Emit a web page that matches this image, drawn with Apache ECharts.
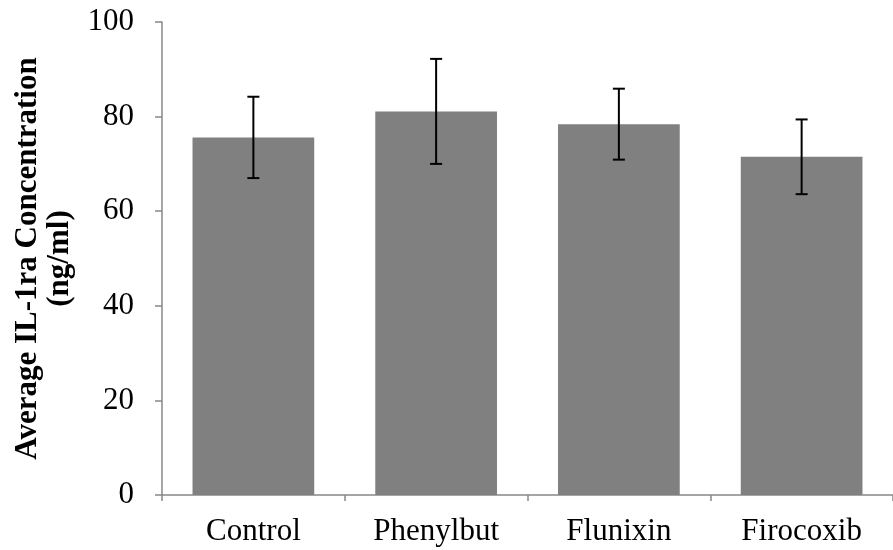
<!DOCTYPE html>
<html><head><meta charset="utf-8">
<script src="https://cdn.jsdelivr.net/npm/echarts@6/dist/echarts.min.js"></script>
<style>html,body{margin:0;padding:0;background:#fff}#c{width:893px;height:550px}</style>
</head><body><div id="c"></div>
<script>
const categories = ['Control', 'Phenylbut', 'Flunixin', 'Firocoxib'];
const means = [75.6, 81.1, 78.4, 71.5];
const errors = [8.6, 11.1, 7.5, 7.9];
const yTicks = [0, 20, 40, 60, 80, 100];

const chart = echarts.init(document.getElementById('c'));
const font = '"Liberation Serif", "Times New Roman", serif';
chart.setOption({
  animation: false,
  grid: { left: 162, right: -10, top: 22, bottom: 55, containLabel: false },
  xAxis: {
    type: 'category', data: categories,
    axisLine: { lineStyle: { color: '#888', width: 1.5 } },
    axisTick: { show: true, length: 6, lineStyle: { color: '#888', width: 1.5 } },
    axisLabel: { fontFamily: font, fontSize: 31, color: '#000', margin: 21 }
  },
  yAxis: {
    type: 'value', min: 0, max: 100, interval: 20,
    name: 'Average IL-1ra Concentration\n(ng/ml)',
    nameLocation: 'middle', nameRotate: 90, nameGap: 86,
    nameTextStyle: { fontFamily: font, fontSize: 31, fontWeight: 'bold', color: '#000', lineHeight: 32, align: 'center' },
    axisLine: { show: true, lineStyle: { color: '#888', width: 1.5 } },
    axisTick: { show: true, length: 7, lineStyle: { color: '#888', width: 1.5 } },
    splitLine: { show: false },
    axisLabel: { fontFamily: font, fontSize: 31, color: '#000', margin: 28,
      formatter: v => yTicks.includes(v) ? String(v) : '' }
  },
  series: [
    {
      type: 'bar', data: means, barCategoryGap: '33.4%',
      itemStyle: { color: '#808080' }
    },
    {
      type: 'custom',
      data: means.map((m, i) => [i, m - errors[i], m + errors[i]]),
      renderItem: function (params, api) {
        const lo = api.coord([api.value(0), api.value(1)]);
        const hi = api.coord([api.value(0), api.value(2)]);
        const w = 6;
        const st = { stroke: '#000', lineWidth: 2 };
        return { type: 'group', children: [
          { type: 'line', shape: { x1: lo[0], y1: lo[1], x2: hi[0], y2: hi[1] }, style: st },
          { type: 'line', shape: { x1: lo[0] - w, y1: lo[1], x2: lo[0] + w, y2: lo[1] }, style: st },
          { type: 'line', shape: { x1: hi[0] - w, y1: hi[1], x2: hi[0] + w, y2: hi[1] }, style: st }
        ]};
      },
      z: 10
    }
  ]
});
</script></body></html>
